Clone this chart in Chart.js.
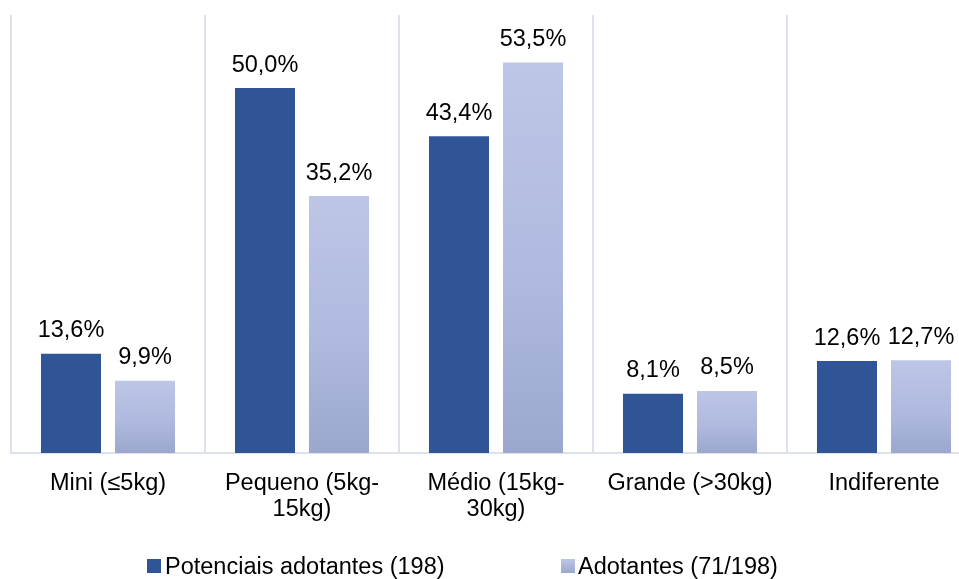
<!DOCTYPE html>
<html>
<head>
<meta charset="utf-8">
<script src="https://cdn.jsdelivr.net/npm/chart.js@4"></script>
<style>
  html, body { margin: 0; padding: 0; background: #fff; overflow: hidden; width: 959px; height: 579px; }
  #wrap { position: absolute; left: 0; top: 0; width: 982px; height: 579px; }
  .lg-box { position: absolute; width: 14px; height: 14px; }
  .lg-text { position: absolute; font-family: "Liberation Sans", Arial, sans-serif; font-size: 23.5px; color: #000;
             white-space: nowrap; line-height: 26px; }
</style>
</head>
<body>
<div id="wrap"><canvas id="c"></canvas></div>
<div class="lg-box" style="left:147px; top:559px; background:#2F5597;"></div>
<div class="lg-text" id="lg1" style="left:165px; top:553px;"></div>
<div class="lg-box" style="left:561px; top:559px; background:linear-gradient(#BDC6E6,#9BA7CD);"></div>
<div class="lg-text" id="lg2" style="left:578px; top:553px;"></div>
<script>
const categories = ['Mini (≤5kg)', ['Pequeno (5kg-', '15kg)'], ['Médio (15kg-', '30kg)'], 'Grande (>30kg)', 'Indiferente'];
const seriesNames = ['Potenciais adotantes (198)', 'Adotantes (71/198)'];
const potenciais = [13.6, 50.0, 43.4, 8.1, 12.6];
const adotantes = [9.9, 35.2, 53.5, 8.5, 12.7];
const yMin = 0;
const yMax = 60;

document.getElementById('lg1').textContent = seriesNames[0];
document.getElementById('lg2').textContent = seriesNames[1];

const FONT = '"Liberation Sans", Arial, sans-serif';
const GRID = '#DCE1EB';

function lightGradient(ctx) {
  const chart = ctx.chart;
  if (!chart.chartArea || ctx.type !== 'data' || !ctx.parsed) return '#AEB8DC';
  const ys = chart.scales.y;
  const top = ys.getPixelForValue(ctx.parsed.y);
  const bottom = ys.getPixelForValue(0);
  const g = chart.ctx.createLinearGradient(0, top, 0, bottom);
  g.addColorStop(0, '#BDC6E6');
  g.addColorStop(0.55, '#B0BADF');
  g.addColorStop(1, '#9BA7CD');
  return g;
}

const valueLabels = {
  id: 'valueLabels',
  afterDatasetsDraw(chart) {
    const ctx = chart.ctx;
    ctx.save();
    ctx.font = '23.5px ' + FONT;
    ctx.fillStyle = '#000';
    ctx.textAlign = 'center';
    ctx.textBaseline = 'alphabetic';
    chart.data.datasets.forEach((ds, i) => {
      const meta = chart.getDatasetMeta(i);
      meta.data.forEach((el, j) => {
        const v = ds.data[j];
        const txt = v.toFixed(1).replace('.', ',') + '%';
        ctx.fillText(txt, el.x, el.y - 16.5);
      });
    });
    ctx.restore();
  }
};

new Chart(document.getElementById('c'), {
  type: 'bar',
  data: {
    labels: categories,
    datasets: [
      { label: seriesNames[0], data: potenciais, backgroundColor: '#2F5597',
        categoryPercentage: 0.763, barPercentage: 0.811 },
      { label: seriesNames[1], data: adotantes, backgroundColor: lightGradient,
        categoryPercentage: 0.763, barPercentage: 0.811 }
    ]
  },
  options: {
    responsive: true,
    maintainAspectRatio: false,
    animation: false,
    layout: { padding: { left: 11, top: 15, right: 1, bottom: 0 } },
    plugins: { legend: { display: false }, tooltip: { enabled: false } },
    scales: {
      x: {
        grid: { color: GRID, lineWidth: 2, drawTicks: false, offset: true },
        border: { display: true, color: GRID, width: 2 },
        ticks: { color: '#000', font: { family: FONT, size: 23.5, lineHeight: 1.1 }, padding: 18, maxRotation: 0, autoSkip: false },
        afterFit(scale) { scale.height = 126; }
      },
      y: {
        display: false,
        min: yMin,
        max: yMax
      }
    }
  },
  plugins: [valueLabels]
});
</script>
</body>
</html>
